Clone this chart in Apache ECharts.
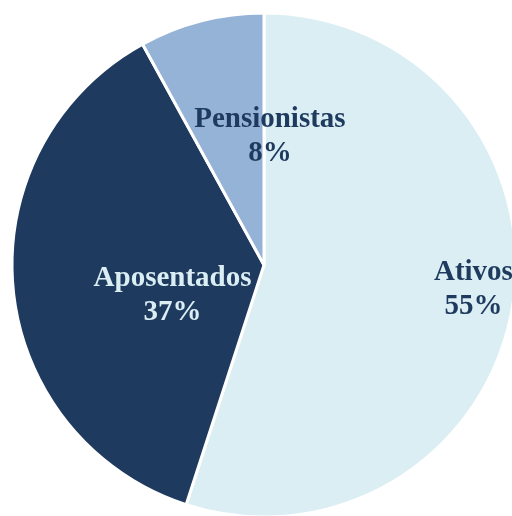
<!DOCTYPE html>
<html>
<head>
<meta charset="utf-8">
<script src="https://cdn.jsdelivr.net/npm/echarts@6/dist/echarts.min.js"></script>
<style>
  html, body { margin: 0; padding: 0; background: #fff; }
  #chart { width: 512px; height: 516px; }
</style>
</head>
<body>
<div id="chart"></div>
<script>
var categories = ["Ativos", "Aposentados", "Pensionistas"];
var values = [55, 37, 8];

var colors = ["#DAEEF3", "#1F3A5F", "#95B3D7"];
var labelColors = ["#1F3A5F", "#DAEEF3", "#1F3A5F"];
// label nudges (like the hand-placed labels in the original)
var labelShift = [[82, 4], [37, 18], [38, -4]];

var chart = echarts.init(document.getElementById("chart"));

var option = {
  animation: false,
  series: [
    {
      type: "pie",
      center: [264, 265],
      radius: [0, 252],
      startAngle: 90,
      clockwise: true,
      silent: true,
      itemStyle: {
        borderColor: "#fff",
        borderWidth: 3
      },
      label: {
        show: true,
        position: "inside",
        fontFamily: "Liberation Serif, Times New Roman, serif",
        fontWeight: "bold",
        fontSize: 29,
        lineHeight: 34,
        align: "center",
        formatter: function (p) {
          return p.name + "\n" + Math.round(p.percent) + "%";
        }
      },
      labelLine: { show: false },
      labelLayout: function (p) {
        var s = labelShift[p.dataIndex];
        return { dx: s[0], dy: s[1] };
      },
      data: categories.map(function (name, i) {
        return {
          name: name,
          value: values[i],
          itemStyle: { color: colors[i] },
          label: { color: labelColors[i] }
        };
      })
    }
  ]
};

chart.setOption(option);
</script>
</body>
</html>
